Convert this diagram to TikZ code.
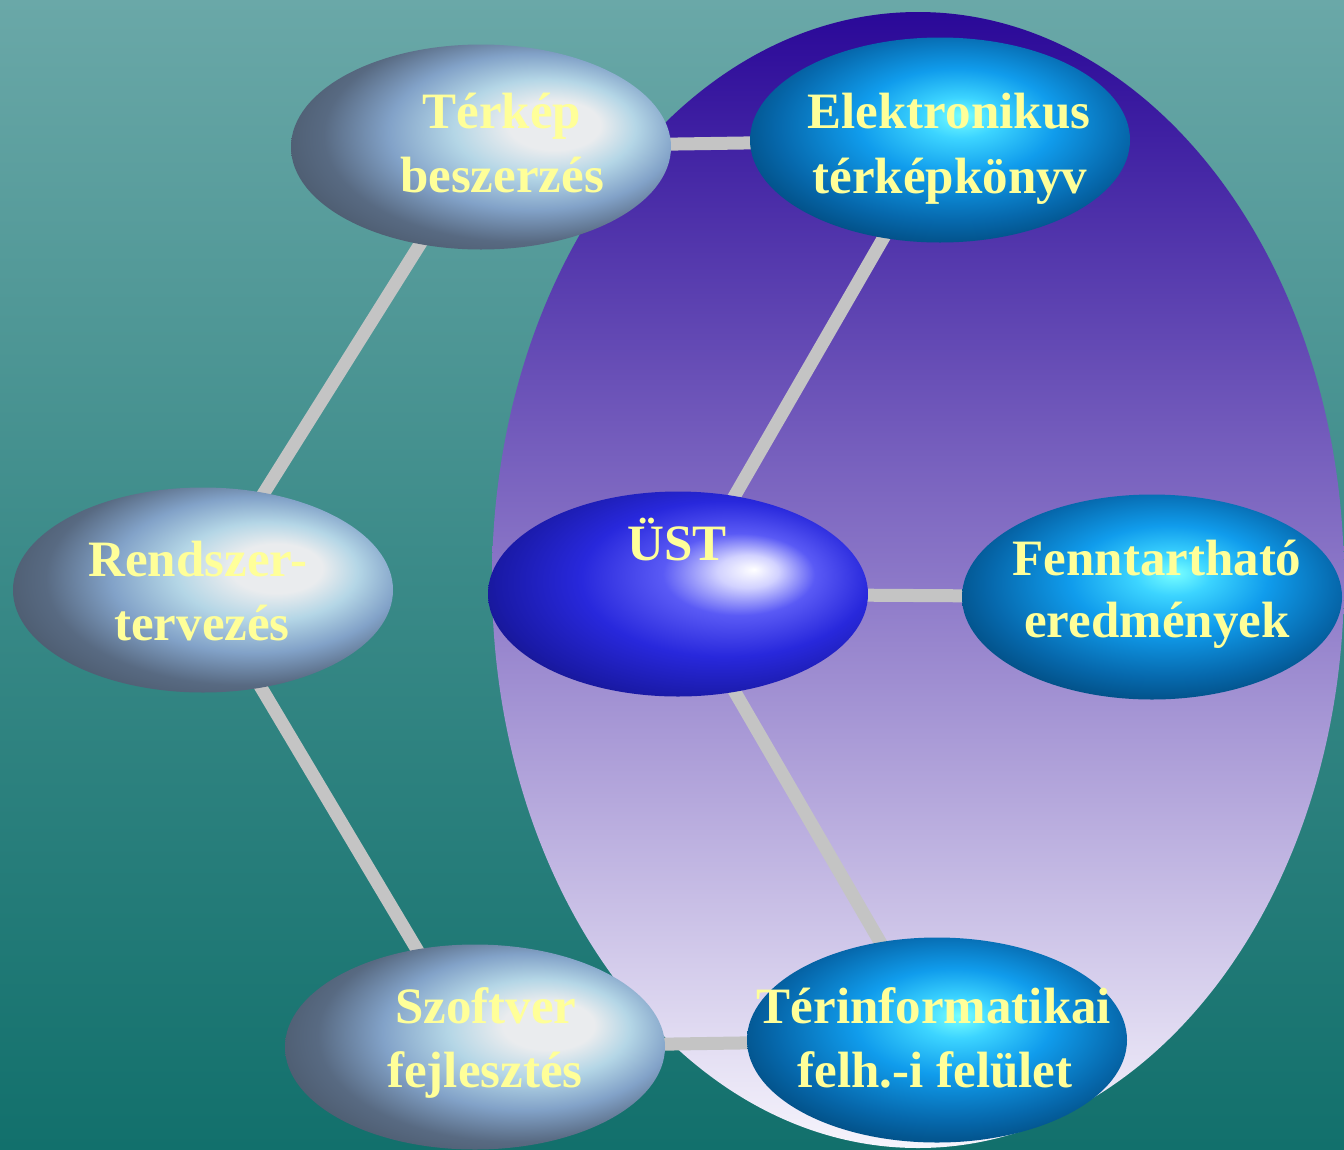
\documentclass[tikz,border=0pt]{standalone}
\usepackage{fontspec}
\setmainfont{Liberation Serif}
\usetikzlibrary{shapes.geometric,calc}

% colours
\definecolor{bgtop}{RGB}{106,168,168}
\definecolor{bgmid}{RGB}{58,138,136}
\definecolor{bgbot}{RGB}{18,112,108}
\definecolor{ovtop}{RGB}{42,8,152}
\definecolor{ovmid}{RGB}{140,120,200}
\definecolor{ovbot}{RGB}{246,244,252}
\definecolor{linkgray}{RGB}{196,196,196}
\definecolor{labelyellow}{RGB}{255,255,153}

% slate ball
\definecolor{gA}{RGB}{234,236,238}
\definecolor{gB}{RGB}{180,214,230}
\definecolor{gC}{RGB}{130,162,200}
\definecolor{gD}{RGB}{88,106,130}
\definecolor{gE}{RGB}{72,86,104}
% cyan ball
\definecolor{cA}{RGB}{120,255,255}
\definecolor{cB}{RGB}{60,212,255}
\definecolor{cC}{RGB}{16,156,236}
\definecolor{cD}{RGB}{6,104,172}
\definecolor{cE}{RGB}{0,68,116}
\definecolor{cF}{RGB}{0,48,90}
% royal blue ball
\definecolor{uA}{RGB}{255,255,255}
\definecolor{uB}{RGB}{210,210,255}
\definecolor{uC}{RGB}{90,90,245}
\definecolor{uD}{RGB}{40,40,220}
\definecolor{uE}{RGB}{26,26,168}
\definecolor{uF}{RGB}{14,14,90}

\pgfdeclareradialshading{slateball}{\pgfpoint{11bp}{6bp}}{%
  color(0bp)=(gA); color(6bp)=(gA); color(12bp)=(gB); color(19bp)=(gC);
  color(26bp)=(gD); color(33bp)=(gE); color(50bp)=(gE)}
\pgfdeclareradialshading{cyanball}{\pgfpoint{3bp}{6bp}}{%
  color(0bp)=(cA); color(5bp)=(cB); color(13bp)=(cC); color(23bp)=(cD);
  color(31bp)=(cE); color(38bp)=(cF); color(50bp)=(cF)}
\pgfdeclareradialshading{royalball}{\pgfpoint{10bp}{6bp}}{%
  color(0bp)=(uA); color(4bp)=(uB); color(10bp)=(uC); color(19bp)=(uD);
  color(28bp)=(uE); color(38bp)=(uF); color(50bp)=(uF)}

\pgfdeclarelayer{backdrop}
\pgfdeclarelayer{links}
\pgfsetlayers{backdrop,links,main}

\tikzset{
  bubble/.style={ellipse, inner sep=0pt, minimum width=380pt, minimum height=205pt},
  slate/.style={bubble, shading=slateball},
  cyan ball/.style={bubble, shading=cyanball},
  royal/.style={bubble, shading=royalball},
  caption/.style={anchor=base, inner sep=0pt, text=labelyellow,
    font=\fontsize{51}{64}\selectfont\bfseries},
  link/.style={draw=linkgray, line width=13pt}
}

\begin{document}
\begin{tikzpicture}[x=1pt, y=-1pt]
\useasboundingbox (0,0) rectangle (1344,1149);

\begin{pgfonlayer}{backdrop}
  % teal backdrop
  \shade[top color=bgtop, bottom color=bgbot, middle color=bgmid]
    (0,0) rectangle (1344,1149);
  % large violet oval
  \begin{scope}
    \clip (0,0) rectangle (1344,1149);
    \shade[top color=ovtop, bottom color=ovbot, middle color=ovmid]
      (918,580) ellipse [x radius=426, y radius=568];
  \end{scope}
\end{pgfonlayer}

% bubbles
\node[slate]     (terkep)   at (481,147)  {};
\node[cyan ball] (elektro)  at (940,140)  {};
\node[slate]     (rendszer) at (203,590)  {};
\node[royal]     (ust)      at (678,594)  {};
\node[cyan ball] (fennt)    at (1152,597) {};
\node[slate]     (szoftver) at (475,1047) {};
\node[cyan ball] (terinf)   at (937,1040) {};

% connectors, running between bubble centres behind the bubbles
\begin{pgfonlayer}{links}
  \draw[link] (terkep.center)   -- (elektro.center);
  \draw[link] (terkep.center)   -- (rendszer.center);
  \draw[link] (rendszer.center) -- (szoftver.center);
  \draw[link] (szoftver.center) -- (terinf.center);
  \draw[link] (ust.center)      -- (elektro.center);
  \draw[link] (ust.center)      -- (fennt.center);
  \draw[link] (ust.center)      -- (terinf.center);
\end{pgfonlayer}

% captions
\node[caption] (t1a) at (502,128)  {Térkép};
\node[caption] (t1b) at (502,192)  {beszerzés};
\node[caption] (t2a) at (949,128)  {Elektronikus};
\node[caption] (t2b) at (950,193)  {térképkönyv};
\node[caption] (t3a) at (198,576)  {Rendszer-};
\node[caption] (t3b) at (202,640)  {tervezés};
\node[caption] (t4a) at (677,560)  {ÜST};
\node[caption] (t5a) at (1157,575) {Fenntartható};
\node[caption] (t5b) at (1157,637) {eredmények};
\node[caption] (t6a) at (486,1023) {Szoftver};
\node[caption] (t6b) at (485,1087) {fejlesztés};
\node[caption] (t7a) at (934,1023) {Térinformatikai};
\node[caption] (t7b) at (935,1087) {felh.-i felület};
\end{tikzpicture}
\end{document}
